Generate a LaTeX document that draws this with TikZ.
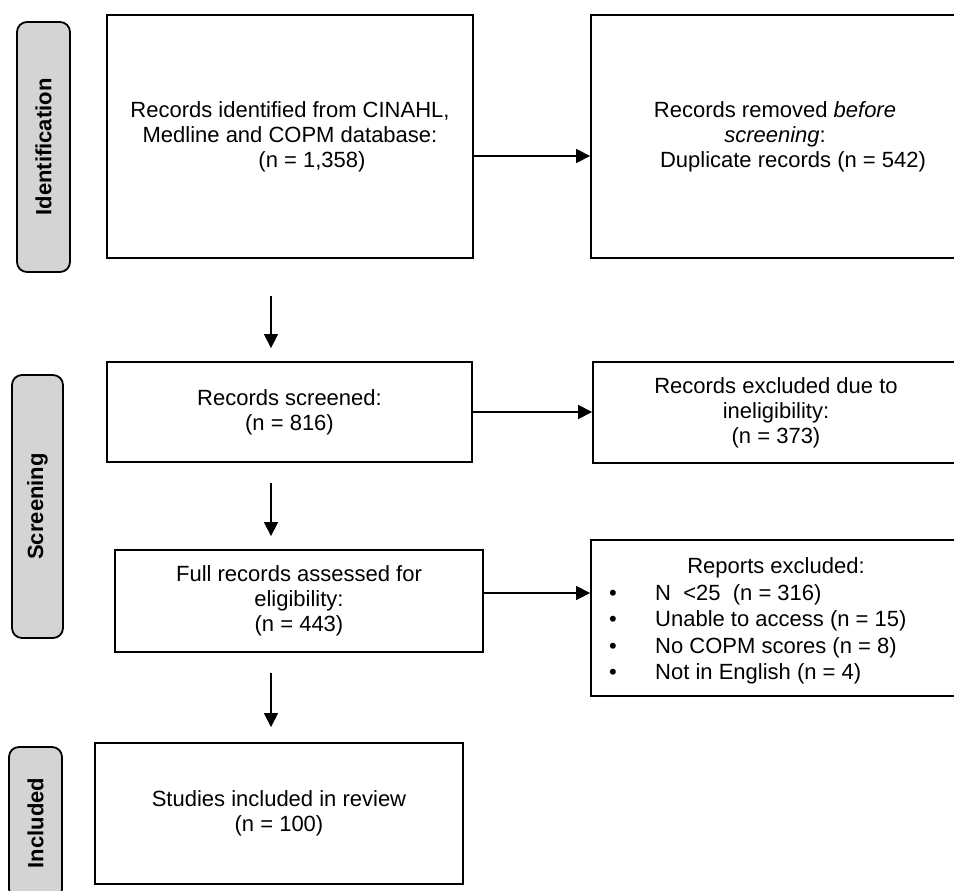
\documentclass[tikz,border=0pt]{standalone}
\usepackage{fontspec}
\setmainfont{Liberation Sans}
\usetikzlibrary{arrows.meta}
\definecolor{labgray}{RGB}{212,212,212}
\begin{document}
\begin{tikzpicture}[x=1pt,y=-1pt,
  box/.style={draw, line width=1.8pt, inner sep=0pt, align=center, font=\fontsize{22}{25}\selectfont},
  lab/.style={draw, line width=1.8pt, fill=labgray, rounded corners=10pt, inner sep=0pt},
  labtxt/.style={rotate=90, font=\fontsize{22}{25}\selectfont\bfseries, inner sep=0pt},
  arr/.style={line width=1.3pt, -{Triangle[length=14pt,width=14pt]}},
  txt/.style={font=\fontsize{22}{25}\selectfont, inner sep=0pt, anchor=base}
]
\useasboundingbox (0,0) rectangle (954,891);

% phase labels
\node[lab, minimum width=53pt, minimum height=250pt] (l1) at (43.5,147) {};
\node[labtxt] (l1t) at (l1.center) {Identification};
\node[lab, minimum width=51pt, minimum height=263pt] (l2) at (37.5,506.5) {};
\node[labtxt] (l2t) at (l2.center) {Screening};
\node[lab, minimum width=53pt, minimum height=152pt] (l3) at (35.5,823) {};
\node[labtxt] (l3t) at (l3.center) {Included};

% main boxes
\node[box, minimum width=366pt, minimum height=243pt] (b1) at (290,136.5)
  {Records identified from CINAHL,\\ Medline and COPM database:\\ \hspace*{44pt}(n = 1,358)};
\node[box, minimum width=368pt, minimum height=243pt] (r1) at (775,136.5)
  {Records removed \textit{before}\\ \textit{screening}:\\ \hspace*{36pt}Duplicate records (n = 542)};
\node[box, minimum width=365pt, minimum height=100pt] (b2) at (289.5,412)
  {Records screened:\\ (n = 816)};
\node[box, minimum width=366pt, minimum height=101pt] (r2) at (776,412.5)
  {Records excluded due to\\ ineligibility:\\ (n = 373)};
\node[box, minimum width=368pt, minimum height=102pt] (b3) at (299,601)
  {Full records assessed for\\ eligibility:\\ (n = 443)};
\node[box, minimum width=368pt, minimum height=156pt] (r3) at (775,618) {};
\node[box, minimum width=368pt, minimum height=141pt] (b4) at (279,813.5)
  {Studies included in review\\ (n = 100)};

% reports excluded text
\node[txt] (rh) at (776,573) {Reports excluded:};
\node[txt] (u1) at (613,600) {•};
\node[txt] (u2) at (613,626) {•};
\node[txt] (u3) at (613,653) {•};
\node[txt] (u4) at (613,679) {•};
\node[txt, anchor=base west] (e1) at (655,600) {N\ \ <25\ \ (n = 316)};
\node[txt, anchor=base west] (e2) at (655,626) {Unable to access (n = 15)};
\node[txt, anchor=base west] (e3) at (655,653) {No COPM scores (n = 8)};
\node[txt, anchor=base west] (e4) at (655,679) {Not in English (n = 4)};

% horizontal arrows
\draw[arr] ([yshift=-19.5pt]b1.east) -- ([yshift=-19.5pt]r1.west);
\draw[arr] (b2.east) -- ([yshift=0.5pt]r2.west);
\draw[arr] ([yshift=8pt]b3.east) -- ([yshift=25pt]r3.west);

% vertical arrows
\draw[arr] ([xshift=-19pt,yshift=-37pt]b1.south) -- ([xshift=-18.5pt,yshift=13pt]b2.north);
\draw[arr] ([xshift=-18.5pt,yshift=-20pt]b2.south) -- ([xshift=-28pt,yshift=13pt]b3.north);
\draw[arr] ([xshift=-28pt,yshift=-20pt]b3.south) -- ([xshift=-8pt,yshift=15pt]b4.north);
\end{tikzpicture}
\end{document}
